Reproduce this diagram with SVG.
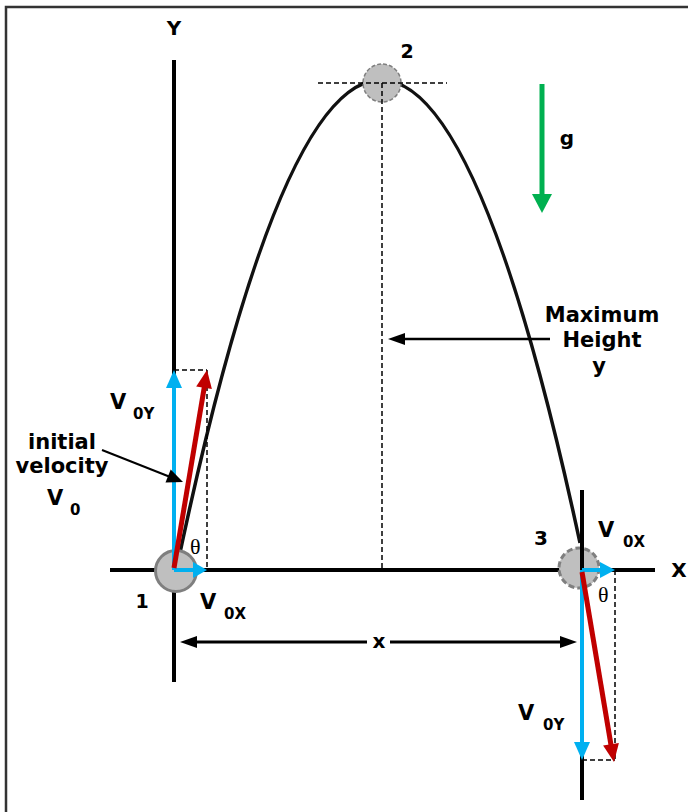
<svg xmlns="http://www.w3.org/2000/svg" width="688" height="812" viewBox="0 0 688 812">
<style>
.lbl{font-family:"DejaVu Sans","Liberation Sans",sans-serif;font-weight:bold;fill:#000}
.big{font-size:21px}
.sub{font-size:15px}
.num{font-size:19px;text-anchor:middle}
.ctr{font-size:21px;text-anchor:middle}
.th{font-family:"Liberation Serif","DejaVu Serif",serif;font-size:22px;fill:#000}
.axis{stroke:#000;stroke-width:4;fill:none}
.dash{stroke:#000;stroke-width:1.5;stroke-dasharray:5,3;fill:none}
.blue{stroke:#00B0F0;stroke-width:4;fill:none}
.bluef{fill:#00B0F0}
.red{stroke:#C00000;stroke-width:5;fill:none}
.redf{fill:#C00000}
.blk{stroke:#000;fill:none}
.ball{fill:#bfbfbf;stroke:#7f7f7f}
</style>
<rect width="688" height="812" fill="#fff"/>
<path d="M6,812 V7 H688" fill="none" stroke="#333" stroke-width="2.5"/>

<g id="axes">
  <line class="axis" x1="174" y1="60" x2="174" y2="682"/>
  <line class="axis" x1="110" y1="570" x2="655" y2="570"/>
  <text class="lbl" x="174" y="35" font-size="20" text-anchor="middle">Y</text>
  <text class="lbl" x="679" y="577" font-size="20" text-anchor="middle">X</text>
</g>

<g id="trajectory">
  <path d="M177,567 Q378.5,-394.9 580,543" fill="none" stroke="#111" stroke-width="3.5"/>
</g>

<g id="point1">
  <circle class="ball" cx="176" cy="571" r="20.5" stroke-width="3"/>
  <line class="dash" x1="174" y1="370" x2="207" y2="370"/>
  <line class="dash" x1="207" y1="370" x2="207" y2="570"/>
  <line class="blue" x1="174" y1="570" x2="174" y2="386"/>
  <polygon class="bluef" points="174,370 166,388 182,388"/>
  <line class="blue" x1="174" y1="570" x2="194" y2="570"/>
  <polygon class="bluef" points="207,570 193,562 193,578"/>
  <line class="red" x1="174" y1="568" x2="204.5" y2="386"/>
  <polygon class="redf" points="207,370 211.9,389.1 196.2,386.4"/>
  <text class="lbl num" x="142" y="608">1</text>
  <text class="th" x="190" y="554">θ</text>
</g>

<g id="point2">
  <circle class="ball" cx="382" cy="83" r="19" stroke-width="1.5" stroke-dasharray="4,2"/>
  <line class="dash" x1="318" y1="83" x2="447" y2="83"/>
  <line class="dash" x1="382" y1="83" x2="382" y2="570"/>
  <text class="lbl num" x="407" y="58">2</text>
</g>

<g id="point3">
  <circle class="ball" cx="579" cy="568" r="20" stroke-width="3" stroke-dasharray="6,3"/>
  <line class="axis" x1="582" y1="490" x2="582" y2="800"/>
  <line class="dash" x1="615" y1="570" x2="615" y2="760"/>
  <line class="dash" x1="582" y1="760" x2="615" y2="760"/>
  <line class="blue" x1="582" y1="570" x2="601" y2="570"/>
  <polygon class="bluef" points="615,570 600,562 600,578"/>
  <line class="blue" x1="582" y1="570" x2="582" y2="744"/>
  <polygon class="bluef" points="582,760 574,742 590,742"/>
  <line class="red" x1="582" y1="572" x2="611" y2="745"/>
  <polygon class="redf" points="614,762 618.9,742.9 603.1,745.6"/>
  <text class="lbl" x="541" y="545" font-size="20" text-anchor="middle">3</text>
  <text class="th" x="598" y="602">θ</text>
</g>

<g id="connectors">
  <!-- max height pointer -->
  <line class="blk" stroke-width="2.5" x1="403" y1="339" x2="550" y2="339"/>
  <polygon points="388,339 405,333 405,345" fill="#000"/>
  <!-- x dimension -->
  <line class="blk" stroke-width="3" x1="195" y1="642" x2="367" y2="642"/>
  <line class="blk" stroke-width="3" x1="390" y1="642" x2="562" y2="642"/>
  <polygon points="180,642 197,636 197,648" fill="#000"/>
  <polygon points="577,642 560,636 560,648" fill="#000"/>
  <!-- initial velocity pointer -->
  <line class="blk" stroke-width="2" x1="102" y1="450" x2="169" y2="476.5"/>
  <polygon points="183,482 165.5,482.6 170.7,469.6" fill="#000"/>
  <!-- gravity -->
  <line stroke="#00B050" stroke-width="5" x1="542" y1="84" x2="542" y2="196"/>
  <polygon points="542,213 532,194 552,194" fill="#00B050"/>
</g>

<g id="labels">
  <text class="lbl big" x="110" y="409">V</text>
  <text class="lbl sub" x="133" y="419">0Y</text>
  <text class="lbl big" x="200" y="609">V</text>
  <text class="lbl sub" x="224" y="619">0X</text>
  <text class="lbl big" x="598" y="537">V</text>
  <text class="lbl sub" x="623" y="547">0X</text>
  <text class="lbl big" x="518" y="720">V</text>
  <text class="lbl sub" x="543" y="730">0Y</text>
  <text class="lbl ctr" x="62" y="449">initial</text>
  <text class="lbl ctr" x="62" y="473">velocity</text>
  <text class="lbl big" x="47" y="505">V</text>
  <text class="lbl sub" x="70" y="515">0</text>
  <text class="lbl ctr" x="602" y="322">Maximum</text>
  <text class="lbl ctr" x="602" y="347">Height</text>
  <text class="lbl ctr" x="599" y="373">y</text>
  <text class="lbl" x="567" y="145" font-size="20" text-anchor="middle">g</text>
  <text class="lbl" x="379" y="648" font-size="20" text-anchor="middle">x</text>
</g>
</svg>
